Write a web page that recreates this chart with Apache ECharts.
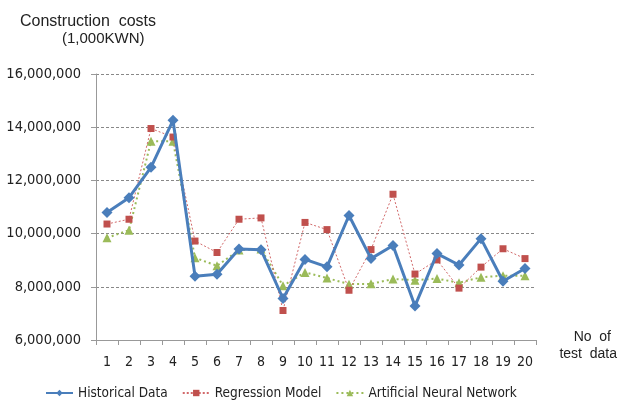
<!DOCTYPE html>
<html><head><meta charset="utf-8">
<script src="https://cdn.jsdelivr.net/npm/echarts@6/dist/echarts.min.js"></script>
<style>html,body{margin:0;padding:0;background:#fff}#c{width:619px;height:405px}</style>
</head><body><div id="c"></div>
<script>
const categories = ['1','2','3','4','5','6','7','8','9','10','11','12','13','14','15','16','17','18','19','20'];
const historicalData = [10790000,11350000,12490000,14260000,8400000,8470000,9420000,9390000,7560000,9030000,8750000,10680000,9060000,9550000,7280000,9250000,8820000,9810000,8210000,8690000];
const regressionModel = [10360000,10540000,13950000,13630000,9720000,9290000,10540000,10590000,7110000,10420000,10150000,7870000,9400000,11480000,8480000,9010000,7950000,8740000,9430000,9060000];
const annModel = [9840000,10130000,13470000,13470000,9090000,8790000,9380000,9420000,8040000,8540000,8330000,8100000,8110000,8290000,8250000,8310000,8150000,8360000,8420000,8420000];
const seriesNames = ['Historical Data','Regression Model','Artificial Neural Network'];

const FONT = '"DejaVu Sans Condensed","Liberation Sans",sans-serif';
const TFONT = '"Liberation Sans",sans-serif';
const chart = echarts.init(document.getElementById('c'), null, {renderer:'canvas'});
chart.setOption({
  animation:false,
  backgroundColor:'#fff',
  title:[
    {text:'Construction  costs', left:15, top:9, textStyle:{fontFamily:TFONT, fontSize:16, fontWeight:'normal', color:'#222'}},
    {text:'(1,000KWN)', left:57, top:26, textStyle:{fontFamily:TFONT, fontSize:15, fontWeight:'normal', color:'#222'}},
    {text:'No  of', right:3, top:325, textStyle:{fontFamily:TFONT, fontSize:14, fontWeight:'normal', color:'#222'}},
    {text:'test  data', right:-3, top:342, textStyle:{fontFamily:TFONT, fontSize:14, fontWeight:'normal', color:'#222'}}
  ],
  grid:{left:96, right:83, top:74, bottom:65},
  legend:{
    bottom:0, left:40, itemGap:14, itemWidth:27, itemHeight:8,
    textStyle:{fontFamily:FONT, fontSize:13.5, color:'#222'},
    data:seriesNames
  },
  xAxis:{
    type:'category', data:categories, boundaryGap:true,
    axisLine:{lineStyle:{color:'#999', width:1}},
    axisTick:{show:true, length:5, lineStyle:{color:'#999'}},
    axisLabel:{fontFamily:FONT, fontSize:14, color:'#222', margin:15, interval:0}
  },
  yAxis:{
    type:'value', min:6000000, max:16000000, interval:2000000,
    axisLine:{show:true, lineStyle:{color:'#999', width:1}},
    axisTick:{show:true, length:5, lineStyle:{color:'#999'}},
    axisLabel:{fontFamily:FONT, fontSize:14.5, color:'#222', margin:15,
      formatter:v=>v.toLocaleString('en-US')},
    splitLine:{show:true, lineStyle:{color:'#888', type:[3,2], width:1}}
  },
  series:[
    {name:seriesNames[0], type:'line', data:historicalData, symbol:'diamond', symbolSize:11,
      lineStyle:{color:'#4a7ebb', width:3}, itemStyle:{color:'#4a7ebb'}, z:3},
    {name:seriesNames[1], type:'line', data:regressionModel, symbol:'rect', symbolSize:7,
      lineStyle:{color:'#d2696a', width:1, type:[2,2]}, itemStyle:{color:'#c0504d'}, z:2},
    {name:seriesNames[2], type:'line', data:annModel, symbol:'triangle', symbolSize:9,
      lineStyle:{color:'#9bbb59', width:2, type:[2,3]}, itemStyle:{color:'#9bbb59'}, z:1}
  ]
});
</script></body></html>
